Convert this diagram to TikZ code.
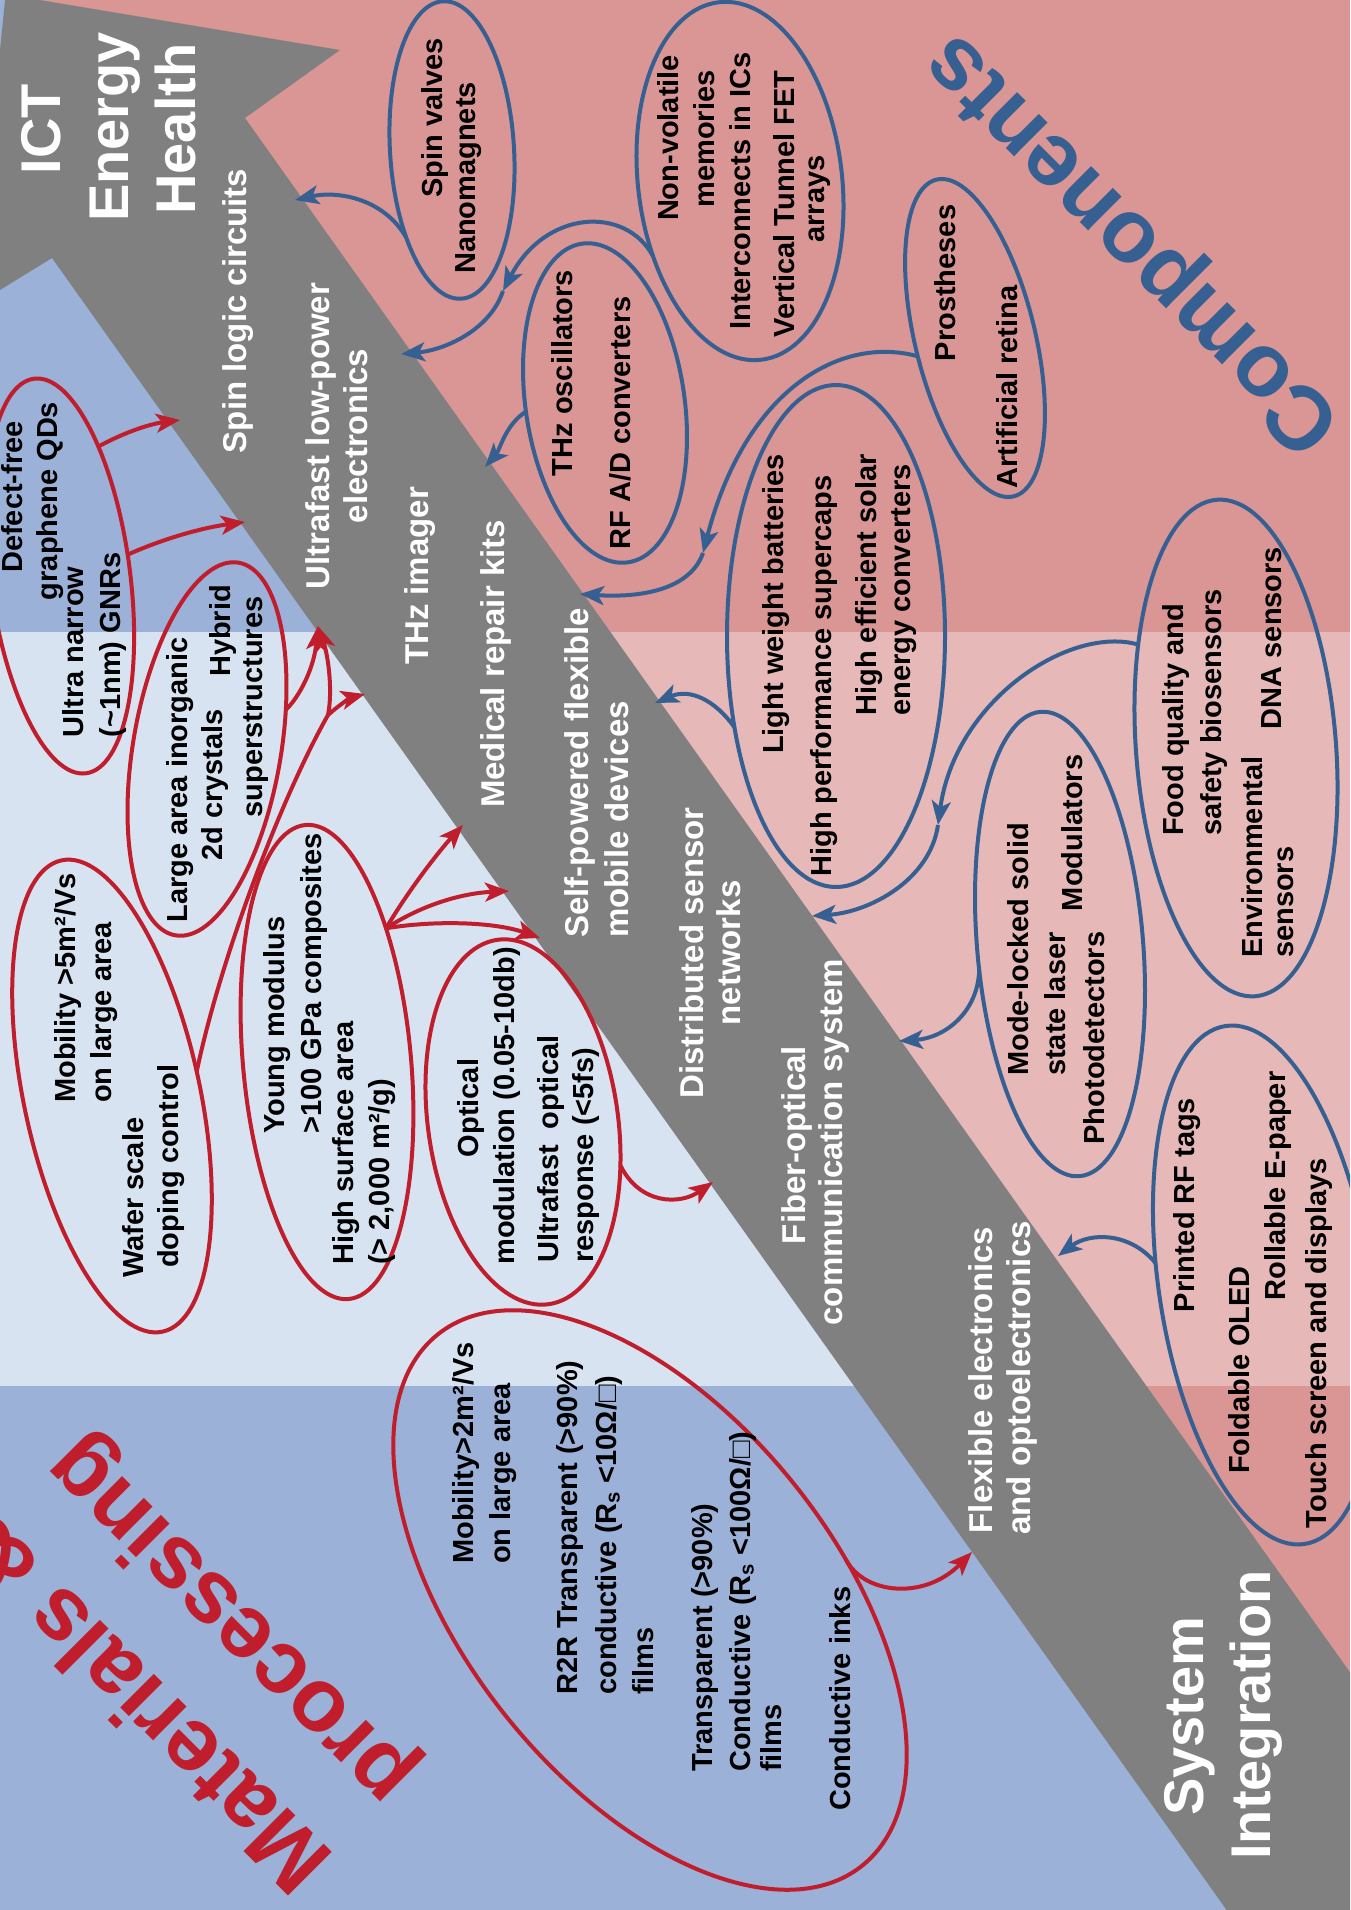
\documentclass[tikz,border=0pt]{standalone}
\usepackage{fontspec}
\setmainfont{Liberation Sans}
\usetikzlibrary{arrows.meta,shapes.geometric}
\definecolor{darkpink}{RGB}{217,150,148}
\definecolor{lightpink}{RGB}{230,185,184}
\definecolor{midblue}{RGB}{155,177,216}
\definecolor{lightblue}{RGB}{215,227,241}
\definecolor{bandgray}{RGB}{128,128,128}
\definecolor{redline}{RGB}{192,30,45}
\definecolor{blueline}{RGB}{55,96,146}
\begin{document}
\begin{tikzpicture}[x=1pt,y=-1pt,
  txt/.style={rotate=90, anchor=base, inner sep=0pt, font=\fontsize{29}{35}\selectfont\bfseries, text=black},
  txtl/.style={txt, anchor=base west},
  bandtxt/.style={rotate=90, anchor=base, inner sep=0pt, font=\fontsize{33}{39}\selectfont\bfseries, text=white},
  bigw/.style={rotate=90, anchor=base, inner sep=0pt, font=\fontsize{56}{67}\selectfont\bfseries, text=white},
  huge/.style={rotate=135, anchor=base, inner sep=0pt, font=\fontsize{90}{108}\selectfont\bfseries},
  redell/.style={ellipse, draw=redline, line width=4pt, inner sep=0pt, outer sep=0pt},
  blueell/.style={ellipse, draw=blueline, line width=4pt, inner sep=0pt, outer sep=0pt},
  redarr/.style={draw=redline, line width=4pt, -{Stealth[length=24pt,width=19pt,inset=6pt]}},
  redln/.style={draw=redline, line width=4pt},
  bluearr/.style={draw=blueline, line width=4pt, -{Stealth[length=24pt,width=19pt,inset=6pt]}}
]
\useasboundingbox (0,0) rectangle (1350,1910);
\clip (0,0) rectangle (1350,1910);
% background
\fill[darkpink] (0,0) rectangle (1350,1910);
\fill[lightpink] (0,632) rectangle (1350,1386);
\begin{scope}
  \clip (0,0) -- (15,0) -- (1350,1878) -- (1350,1910) -- (0,1910) -- cycle;
  \fill[midblue] (0,0) rectangle (1350,1910);
  \fill[lightblue] (0,632) rectangle (1350,1386);
\end{scope}
% gray arrow
\fill[bandgray] (5.6,-5.7) -- (340,50) -- (245,118) -- (1519,1910) -- (1226.6,1910) -- (52,258) -- (-25.6,305.8) -- cycle;

% big labels
\node[bigw] (ict) at (60,129) {ICT};
\node[bigw] (energy) at (128,127) {Energy};
\node[bigw] (health) at (195,129) {Health};
\node[bigw] (sys) at (1203,1716) {System};
\node[bigw] (integ) at (1270,1715) {Integration};
\node[huge, text=blueline] (comp) at (1151,226) {Components};
\node[huge, text=redline] (mat1) at (167,1687) {Materials \&};
\node[huge, text=redline] (mat2) at (249,1603) {processing};

% band labels
\node[bandtxt] (t1) at (246,311) {Spin logic circuits};
\node[bandtxt] (t2a) at (329,436) {Ultrafast low-power};
\node[bandtxt] (t2b) at (367,436) {electronics};
\node[bandtxt] (t3) at (428,576) {THz imager};
\node[bandtxt] (t4) at (504,664) {Medical repair kits};
\node[bandtxt, anchor=base west] (t5a) at (588,938) {Self-powered flexible};
\node[bandtxt, anchor=base west] (t5b) at (628,938) {mobile devices};
\node[bandtxt] (t6a) at (703,953) {Distributed sensor};
\node[bandtxt] (t6b) at (740,953) {networks};
\node[bandtxt] (t7a) at (805,1145) {Fiber-optical};
\node[bandtxt] (t7b) at (842,1142) {communication system};
\node[bandtxt] (t8a) at (992,1380) {Flexible electronics};
\node[bandtxt] (t8b) at (1030,1378) {and optoelectronics};

% red ellipses
\node[redell, minimum width=140pt, minimum height=398pt, rotate=7.5] (R1) at (60,576) {};
\node[redell, minimum width=148pt, minimum height=378pt, rotate=-9.6] (R2) at (207,749) {};
\node[redell, minimum width=176pt, minimum height=482pt, rotate=12.1] (R3) at (112,1096) {};
\node[redell, minimum width=168pt, minimum height=476pt, rotate=5.2] (R4) at (327,1062) {};
\node[redell, minimum width=190pt, minimum height=368pt, rotate=8] (R5) at (523,1122) {};
\node[redell, minimum width=370pt, minimum height=680pt, rotate=38.6] (R6) at (650,1600) {};

% blue ellipses
\node[blueell, minimum width=124pt, minimum height=298pt, rotate=3.5] (B1) at (452,150) {};
\node[blueell, minimum width=204pt, minimum height=360pt, rotate=6.8] (B2) at (740,181) {};
\node[blueell, minimum width=159pt, minimum height=322pt, rotate=8.2] (B3) at (605,403) {};
\node[blueell, minimum width=120pt, minimum height=326pt, rotate=13.7] (B4) at (975,338) {};
\node[blueell, minimum width=218pt, minimum height=502pt, rotate=0] (B5) at (836,636) {};
\node[blueell, minimum width=166pt, minimum height=466pt, rotate=4.8] (B6) at (1060,944) {};
\node[blueell, minimum width=200pt, minimum height=498pt, rotate=4.4] (B7) at (1236,748) {};
\node[blueell, minimum width=212pt, minimum height=524pt, rotate=8.7] (B8) at (1265,1285) {};

% red ellipse texts
\node[txt] (r1a) at (22,497) {Defect-free};
\node[txt] (r1b) at (57,501) {graphene QDs};
\node[txt] (r1c) at (83,652) {Ultra narrow};
\node[txt] (r1d) at (120,645) {(\textasciitilde1nm) GNRs};
\node[txt] (r2a) at (187,780) {Large area inorganic};
\node[txt] (r2b) at (222,785) {2d crystals};
\node[txt] (r2c) at (230,631) {Hybrid};
\node[txt] (r2d) at (262,707) {superstructures};
\node[txtl] (r3a) at (75,1103) {Mobility >5m²/Vs};
\node[txtl] (r3b) at (111,1103) {on large area};
\node[txtl] (r3c) at (143,1278) {Wafer scale};
\node[txtl] (r3d) at (178,1268) {doping control};
\node[txtl] (r4a) at (284,1134) {Young modulus};
\node[txtl] (r4b) at (321,1134) {>100 GPa composites};
\node[txtl] (r4c) at (353,1265) {High surface area};
\node[txtl] (r4d) at (389,1265) {(> 2,000 m²/g)};
\node[txt] (r5a) at (478,1108) {Optical};
\node[txt] (r5b) at (514,1106) {modulation (0.05-10db)};
\node[txtl] (r5c) at (558,1263) {Ultrafast\ \ optical};
\node[txtl] (r5d) at (593,1263) {response (<5fs)};
\node[txtl] (r6a) at (473,1564) {Mobility>2m²/Vs};
\node[txtl] (r6b) at (510,1564) {on large area};
\node[txtl] (r6c) at (577,1695) {R2R Transparent (>90\%)};
\node[txtl] (r6d) at (616,1695) {conductive (R\textsubscript{s} <10Ω/□)};
\node[txtl] (r6e) at (653,1695) {films};
\node[txtl] (r6f) at (712,1772) {Transparent (>90\%)};
\node[txtl] (r6g) at (750,1772) {Conductive (R\textsubscript{s} <100Ω/□)};
\node[txtl] (r6h) at (781,1772) {films};
\node[txtl] (r6i) at (850,1811) {Conductive inks};

% blue ellipse texts
\node[txt] (b1a) at (442,118) {Spin valves};
\node[txt] (b1b) at (475,178) {Nanomagnets};
\node[txt] (b2a) at (678,138) {Non-volatile};
\node[txt] (b2b) at (714,139) {memories};
\node[txt] (b2c) at (750,191) {Interconnects in ICs};
\node[txt] (b2d) at (794,204) {Vertical Tunnel FET};
\node[txt] (b2e) at (824,199) {arrays};
\node[txt] (b3a) at (572,373) {THz oscillators};
\node[txt] (b3b) at (630,423) {RF A/D converters};
\node[txt] (b4a) at (955,283) {Prostheses};
\node[txt] (b4b) at (1017,387) {Artificial retina};
\node[txt] (b5a) at (783,604) {Light weight batteries};
\node[txt] (b5b) at (831,676) {High performance supercaps};
\node[txt] (b5c) at (876,585) {High efficient solar};
\node[txt] (b5d) at (910,590) {energy converters};
\node[txtl] (b6a) at (1028,1076) {Mode-locked solid};
\node[txtl] (b6b) at (1065,1076) {state laser};
\node[txt] (b6c) at (1082,833) {Modulators};
\node[txt] (b6d) at (1104,1038) {Photodetectors};
\node[txtl] (b7a) at (1183,836) {Food quality and};
\node[txtl] (b7b) at (1221,836) {safety biosensors};
\node[txtl] (b7c) at (1262,958) {Environmental};
\node[txtl] (b7d) at (1293,958) {sensors};
\node[txt] (b7e) at (1281,638) {DNA sensors};
\node[txt] (b8a) at (1194,1205) {Printed RF tags};
\node[txt] (b8b) at (1249,1370) {Foldable OLED};
\node[txt] (b8c) at (1285,1186) {Rollable E-paper};
\node[txt] (b8d) at (1326,1343) {Touch screen and displays};

% connector end points
\coordinate (eR1a) at (180,420);
\coordinate (eR1b) at (245,522);
\coordinate (eA) at (318,626);
\coordinate (eB) at (365,694);
\coordinate (sp) at (328,715);
\coordinate (eR4a) at (463,825);
\coordinate (eR4b) at (509,891);
\coordinate (eR4c) at (540,938);
\coordinate (eR5) at (713,1182);
\coordinate (eR6) at (972,1552);
\coordinate (eB1) at (295,200);
\coordinate (mB2) at (503,291);
\coordinate (eB2) at (401,354);
\coordinate (eB3) at (485,467);
\coordinate (mB4) at (703,553);
\coordinate (eB4) at (580,594);
\coordinate (eB5) at (655,703);
\coordinate (eB6) at (899,1041);
\coordinate (mB7) at (938,825);
\coordinate (eB7) at (812,916);
\coordinate (eB8) at (1058,1256);

% red connectors
\draw[redarr] (R1.66) .. controls (125,432) and (150,424) .. (eR1a);
\draw[redarr] (R1.10) .. controls (160,540) and (200,528) .. (eR1b);
\draw[redln] (R3.4.6) .. controls (220,960) and (280,800) .. (sp);
\draw[redarr] (sp) .. controls (333,690) and (328,655) .. (eA);
\draw[redarr] (sp) .. controls (338,706) and (350,698) .. (eB);
\draw[redarr] (R2.36.2) .. controls (300,696) and (314,668) .. (eA);
\draw[redarr] (R4.61.6) .. controls (410,888) and (440,850) .. (eR4a);
\draw[redarr] (R4.61.6) .. controls (425,903) and (465,893) .. (eR4b);
\draw[redarr] (R4.61.6) .. controls (435,920) and (495,922) .. (eR4c);
\draw[redarr] (R5.328.9) .. controls (640,1205) and (680,1205) .. (eR5);
\draw[redarr] (R6.333) .. controls (865,1595) and (925,1600) .. (eR6);

% blue connectors
\draw[bluearr] (B1.239.4) .. controls (385,200) and (340,190) .. (eB1);
\draw[bluearr] (B2.214.5) .. controls (625,205) and (545,210) .. (mB2);
\draw[bluearr] (mB2) .. controls (490,330) and (445,350) .. (eB2);
\draw[bluearr] (B3.178.8) .. controls (505,425) and (500,450) .. (eB3);
\draw[bluearr] (B4.184.7) .. controls (840,335) and (745,390) .. (mB4);
\draw[bluearr] (mB4) .. controls (690,590) and (640,598) .. (eB4);
\draw[bluearr] (B5.222.4) .. controls (715,700) and (690,688) .. (eB5);
\draw[bluearr] (B6.193.6) .. controls (978,1012) and (945,1038) .. (eB6);
\draw[bluearr] (B7.129.7) .. controls (1070,625) and (955,700) .. (mB7);
\draw[bluearr] (mB7) .. controls (930,880) and (870,912) .. (eB7);
\draw[bluearr] (B8.160.3) .. controls (1130,1232) and (1090,1232) .. (eB8);
\end{tikzpicture}
\end{document}
